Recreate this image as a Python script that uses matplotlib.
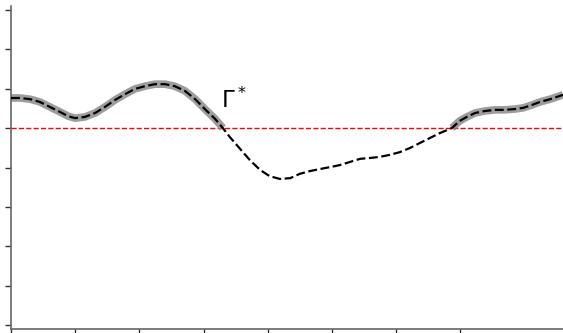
import numpy as np
import matplotlib
matplotlib.use('Agg')
import matplotlib.pyplot as plt

# 曲线数据
x = [0.00, 0.14, 0.30, 0.45, 0.61, 0.76, 0.89, 1.00, 1.15, 1.31, 1.46, 1.62, 1.78, 1.93,
     2.09, 2.24, 2.40, 2.55, 2.71, 2.87, 3.02, 3.18, 3.30, 3.41, 3.57, 3.72, 3.88, 4.03,
     4.19, 4.35, 4.50, 4.66, 4.81, 4.97, 5.12, 5.28, 5.44, 5.59, 5.75, 5.90, 6.06, 6.21,
     6.37, 6.53, 6.68, 6.87, 6.99, 7.10, 7.23, 7.38, 7.54, 7.69, 7.85, 7.98, 8.11, 8.24,
     8.40, 8.60]
y = [0.76, 0.76, 0.73, 0.66, 0.53, 0.41, 0.30, 0.25, 0.28, 0.38, 0.53, 0.71, 0.86, 0.99,
     1.06, 1.11, 1.11, 1.06, 0.94, 0.73, 0.48, 0.23, 0.00, -0.23, -0.53, -0.81, -1.06, -1.22,
     -1.29, -1.27, -1.16, -1.09, -1.04, -0.99, -0.94, -0.86, -0.78, -0.76, -0.73, -0.68, -0.61, -0.51,
     -0.38, -0.25, -0.13, 0.00, 0.18, 0.28, 0.38, 0.43, 0.46, 0.46, 0.48, 0.51, 0.58, 0.66,
     0.73, 0.84]
xticks = list(range(0, 8))
yticks = list(range(-5, 4))

x = np.array(x)
y = np.array(y)
y_pos = np.ma.masked_where(y < 0, y)

fig = plt.figure(figsize=(5.63, 3.33), dpi=100)
ax = fig.add_axes([11/563, 4/333, 1 - 11/563, 323/333])

ax.plot(x, y_pos, color='0.55', lw=5.5, alpha=0.85, solid_capstyle='butt',
        solid_joinstyle='round', zorder=2)
ax.plot(x, y, color='black', lw=1.6, ls='--', dashes=(4, 1.6), zorder=3)
ax.axhline(0, color='red', lw=1, ls='--', zorder=1)
ax.text(3.27, 0.50, r'$\Gamma^*$', fontsize=16.5, ha='left', va='baseline')

ax.set_xlim(0, 8.6)
ax.set_ylim(-5.09, 3.09)
ax.set_xticks(xticks)
ax.set_yticks(yticks)
ax.set_xticklabels([])
ax.set_yticklabels([])
ax.tick_params(length=4, width=1, color='0.2')
for s in ['top', 'right']:
    ax.spines[s].set_visible(False)
for s in ['left', 'bottom']:
    ax.spines[s].set_color('0.4')
    ax.spines[s].set_linewidth(1.2)

plt.savefig('out.png', dpi=100)
